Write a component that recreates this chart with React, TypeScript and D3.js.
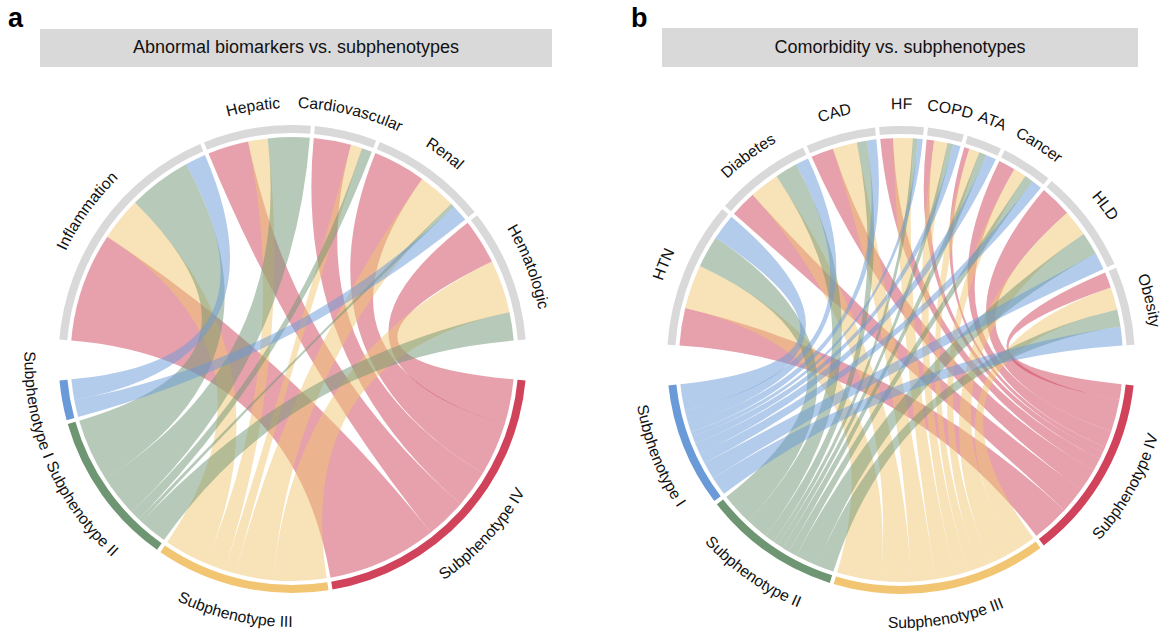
import React from "react";
import * as d3 from "d3";

// ---------- shared categories ----------
const subphenotypes = ["Subphenotype I", "Subphenotype II", "Subphenotype III", "Subphenotype IV"];
const subColors = ["#6a9ad8", "#6f9673", "#f2c572", "#d0435b"];

// ---------- panel a: abnormal biomarkers ----------
const biomarkers = ["Inflammation", "Hepatic", "Cardiovascular", "Renal", "Hematologic"];
const biomarkerSubI = [5.5, 0, 0, 4.5, 0];
const biomarkerSubII = [16.7, 11, 2.7, 1, 7.5];
const biomarkerSubIII = [11.5, 5.2, 3, 10, 14];
const biomarkerSubIV = [29, 10.8, 9.9, 14, 12];

// ---------- panel b: comorbidities ----------
const comorbidities = ["HTN", "Diabetes", "CAD", "HF", "COPD", "ATA", "Cancer", "HLD", "Obesity"];
const comorbSubI = [6.9, 3.5, 2.5, 1.3, 2, 2.8, 2.8, 4.6, 5];
const comorbSubII = [8.5, 6, 2.7, 1.3, 1.5, 1.9, 2.3, 6, 4.6];
const comorbSubIII = [11.7, 8, 6.5, 5.2, 3.6, 2.8, 3.4, 7.1, 6];
const comorbSubIV = [10, 7, 6, 3.4, 2, 1.4, 4.5, 8.5, 4.2];

const titles = ["Abnormal biomarkers vs. subphenotypes", "Comorbidity vs. subphenotypes"];
const panelLetters = ["a", "b"];

const W = 1166;
const H = 637;
const R_OUT = 234;
const R_IN = 226;
const R_CHORD = 222;
const R_LABEL_TOP = 251;
const R_LABEL_BOT = 268;
const LABEL_SIZE = 15.8;
const FONT = "'Liberation Sans', Arial, Helvetica, sans-serif";

function computeLayout(nTop: number, cols: number[][]) {
  const nSub = cols.length;
  const topTot = d3.range(nTop).map((i) => d3.sum(cols, (c) => c[i]));
  const subTot = cols.map((c) => d3.sum(c));
  const T = d3.sum(subTot);
  const deg = Math.PI / 180;
  const big = 10 * deg;
  const small = 1 * deg;
  const u = (2 * Math.PI - 2 * big - (nTop - 1 + nSub - 1) * small) / (2 * T);
  const segs: any = {};
  const topArcs: any[] = [];
  let a = -(T * u + (nTop - 1) * small) / 2;
  for (let i = 0; i < nTop; i++) {
    const s = a;
    const e = a + topTot[i] * u;
    topArcs.push({ i, startAngle: s, endAngle: e });
    let b = s;
    for (let j = nSub - 1; j >= 0; j--) {
      const v = cols[j][i];
      if (v > 0) {
        segs[i + "-" + j] = { i, j, v, s0: b, s1: b + v * u };
        b += v * u;
      }
    }
    a = e + small;
  }
  const subArcs: any[] = [];
  let c = Math.PI - (T * u + (nSub - 1) * small) / 2;
  for (let j = nSub - 1; j >= 0; j--) {
    const s = c;
    const e = c + subTot[j] * u;
    subArcs.push({ j, startAngle: s, endAngle: e });
    let b = s;
    for (let i = nTop - 1; i >= 0; i--) {
      const v = cols[j][i];
      if (v > 0) {
        const sg = segs[i + "-" + j];
        sg.t0 = b;
        sg.t1 = b + v * u;
        b += v * u;
      }
    }
    c = e + small;
  }
  const segList = Object.values(segs).sort((p: any, q: any) => p.i - q.i || q.j - p.j);
  return { topArcs, subArcs, segList };
}

function arcPath(r: number, a0: number, a1: number, sweep: number) {
  const x0 = r * Math.sin(a0);
  const y0 = -r * Math.cos(a0);
  const x1 = r * Math.sin(a1);
  const y1 = -r * Math.cos(a1);
  return `M${x0},${y0}A${r},${r} 0 0 ${sweep} ${x1},${y1}`;
}

function ChordPanel({ id, cx, cy, topNames, cols }: any) {
  const { topArcs, subArcs, segList } = computeLayout(topNames.length, cols);
  const ribbon = d3.ribbon<any, any>().radius(R_CHORD);
  const band = d3.arc<any>().innerRadius(R_IN).outerRadius(R_OUT);
  const span = 1.2;
  return (
    <g transform={`translate(${cx},${cy})`}>
      <defs>
        {topArcs.map((t: any) => {
          const mid = (t.startAngle + t.endAngle) / 2;
          return <path key={"tp" + t.i} id={`${id}-top-${t.i}`} d={arcPath(R_LABEL_TOP, mid - span, mid + span, 1)} />;
        })}
        {subArcs.map((s: any) => {
          const mid = (s.startAngle + s.endAngle) / 2;
          return <path key={"sp" + s.j} id={`${id}-sub-${s.j}`} d={arcPath(R_LABEL_BOT, mid + span, mid - span, 0)} />;
        })}
      </defs>
      {segList.map((sg: any) => (
        <path
          key={`r${sg.i}-${sg.j}`}
          d={ribbon({
            source: { startAngle: sg.s0, endAngle: sg.s1 },
            target: { startAngle: sg.t0, endAngle: sg.t1 },
          }) as any}
          fill={subColors[sg.j]}
          fillOpacity={0.5}
        />
      ))}
      {topArcs.map((t: any) => (
        <path key={"ta" + t.i} d={band(t) as string} fill="#d9d9d9" />
      ))}
      {subArcs.map((s: any) => (
        <path key={"sa" + s.j} d={band(s) as string} fill={subColors[s.j]} />
      ))}
      {topArcs.map((t: any) => (
        <text key={"tl" + t.i} fontFamily={FONT} fontSize={LABEL_SIZE} fill="#111">
          <textPath href={`#${id}-top-${t.i}`} startOffset="50%" textAnchor="middle">
            {topNames[t.i]}
          </textPath>
        </text>
      ))}
      {subArcs.map((s: any) => (
        <text key={"sl" + s.j} fontFamily={FONT} fontSize={LABEL_SIZE} fill="#111">
          <textPath href={`#${id}-sub-${s.j}`} startOffset="50%" textAnchor="middle">
            {subphenotypes[s.j]}
          </textPath>
        </text>
      ))}
    </g>
  );
}

export default function App() {
  const colsA = [biomarkerSubI, biomarkerSubII, biomarkerSubIII, biomarkerSubIV];
  const colsB = [comorbSubI, comorbSubII, comorbSubIII, comorbSubIV];
  return (
    <div style={{ position: "absolute", left: 0, top: 0, width: W, height: H, background: "#fff" }}>
      <svg width={W} height={H} viewBox={`0 0 ${W} ${H}`}>
        <rect x={0} y={0} width={W} height={H} fill="#fff" />
        <text x={8} y={27} fontFamily={FONT} fontWeight="bold" fontSize={27} fill="#000">
          {panelLetters[0]}
        </text>
        <text x={631} y={27} fontFamily={FONT} fontWeight="bold" fontSize={27} fill="#000">
          {panelLetters[1]}
        </text>
        <rect x={40} y={29} width={512} height={38} fill="#d9d9d9" />
        <text x={296} y={53} textAnchor="middle" fontFamily={FONT} fontSize={18} fill="#111">
          {titles[0]}
        </text>
        <rect x={662} y={28} width={476} height={39} fill="#d9d9d9" />
        <text x={900} y={53} textAnchor="middle" fontFamily={FONT} fontSize={18} fill="#111">
          {titles[1]}
        </text>
        <ChordPanel id="pa" cx={292.5} cy={359} topNames={biomarkers} cols={colsA} />
        <ChordPanel id="pb" cx={901} cy={360} topNames={comorbidities} cols={colsB} />
      </svg>
    </div>
  );
}
